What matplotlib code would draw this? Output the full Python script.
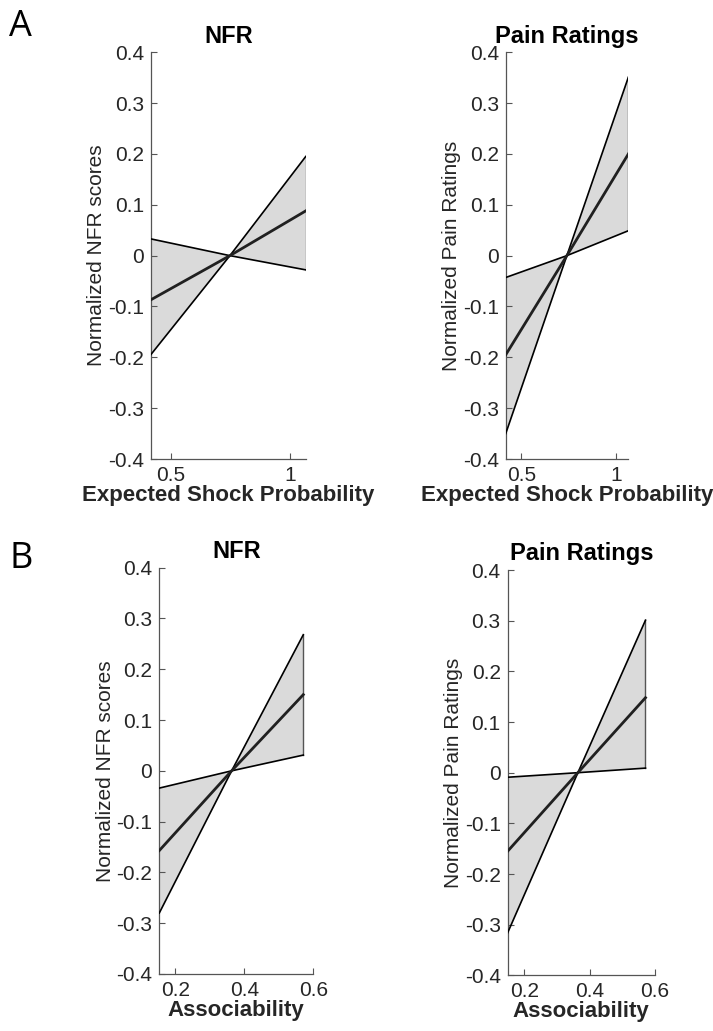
import matplotlib
matplotlib.use("Agg")
import matplotlib.pyplot as plt
import numpy as np

plt.rcParams['font.family'] = ['Liberation Sans', 'DejaVu Sans']

# x positions: left end, crossing point, right end
x_prob = [0.417, 0.749, 1.067]
x_prob_pain = [0.417, 0.741, 1.067]
x_assoc = [0.153, 0.363, 0.571]
x_assoc_pain = [0.149, 0.364, 0.571]

# A: expected shock probability
nfr_prob_steep = [-0.195, 0.0, 0.195]
nfr_prob_mean = [-0.087, 0.0, 0.088]
nfr_prob_flat = [0.033, 0.0, -0.028]
pain_prob_steep = [-0.350, 0.0, 0.351]
pain_prob_mean = [-0.195, 0.0, 0.200]
pain_prob_flat = [-0.043, 0.0, 0.049]

# B: associability
nfr_assoc_steep = [-0.280, 0.0, 0.268]
nfr_assoc_mean = [-0.157, 0.0, 0.150]
nfr_assoc_flat = [-0.034, 0.0, 0.031]
pain_assoc_steep = [-0.316, 0.0, 0.301]
pain_assoc_mean = [-0.155, 0.0, 0.148]
pain_assoc_flat = [-0.009, 0.0, 0.009]

y_ticks = [-0.4, -0.3, -0.2, -0.1, 0, 0.1, 0.2, 0.3, 0.4]
y_ticklabels = ['-0.4', '-0.3', '-0.2', '-0.1', '0', '0.1', '0.2', '0.3', '0.4']
prob_ticks = [0.5, 1.0]
prob_ticklabels = ['0.5', '1']
assoc_ticks = [0.2, 0.4, 0.6]
assoc_ticklabels = ['0.2', '0.4', '0.6']


def band_plot(ax, x, steep, mean, flat, title, ylabel, xlabel, xlim, xticks, xticklabels):
    # shaded band between the two bounding lines
    poly_x = list(x) + list(x[::-1])
    poly_y = list(steep) + list(flat[::-1])
    ax.fill(poly_x, poly_y, facecolor='#dadada', edgecolor='none', zorder=1)
    ax.plot([x[-1], x[-1]], [flat[-1], steep[-1]], color='#555555', lw=1.0, zorder=2)
    ax.plot(x, steep, color='black', lw=1.2, zorder=3)
    ax.plot(x, flat, color='black', lw=1.2, zorder=3)
    ax.plot(x, mean, color='#202020', lw=2.0, zorder=4)

    ax.set_xlim(xlim)
    ax.set_ylim(-0.4, 0.4)
    ax.set_yticks(y_ticks)
    ax.set_yticklabels(y_ticklabels)
    ax.set_xticks(xticks)
    ax.set_xticklabels(xticklabels)
    for s in ['top', 'right']:
        ax.spines[s].set_visible(False)
    for s in ['left', 'bottom']:
        ax.spines[s].set_color('#555555')
        ax.spines[s].set_linewidth(0.9)
    ax.tick_params(direction='in', length=4, width=0.8, color='#555555',
                   labelsize=15, labelcolor='#262626', pad=5)
    ax.set_title(title, fontsize=17, fontweight='bold', pad=7)
    ax.set_ylabel(ylabel, fontsize=15, color='#262626', labelpad=1)
    ax.set_xlabel(xlabel, fontsize=16, fontweight='bold', color='#262626', labelpad=0)


fig = plt.figure(figsize=(7.13, 10.31), dpi=100)

ax1 = fig.add_axes([0.2114, 0.5548, 0.2174, 0.3945])
band_plot(ax1, x_prob, nfr_prob_steep, nfr_prob_mean, nfr_prob_flat,
          'NFR', 'Normalized NFR scores', 'Expected Shock Probability',
          (0.417, 1.067), prob_ticks, prob_ticklabels)

ax2 = fig.add_axes([0.7093, 0.5548, 0.1720, 0.3945])
band_plot(ax2, x_prob_pain, pain_prob_steep, pain_prob_mean, pain_prob_flat,
          'Pain Ratings', 'Normalized Pain Ratings', 'Expected Shock Probability',
          (0.417, 1.067), prob_ticks, prob_ticklabels)

ax3 = fig.add_axes([0.2234, 0.0553, 0.2160, 0.3941])
band_plot(ax3, x_assoc, nfr_assoc_steep, nfr_assoc_mean, nfr_assoc_flat,
          'NFR', 'Normalized NFR scores', 'Associability',
          (0.153, 0.6), assoc_ticks, assoc_ticklabels)

ax4 = fig.add_axes([0.7120, 0.0540, 0.2066, 0.3931])
band_plot(ax4, x_assoc_pain, pain_assoc_steep, pain_assoc_mean, pain_assoc_flat,
          'Pain Ratings', 'Normalized Pain Ratings', 'Associability',
          (0.149, 0.6), assoc_ticks, assoc_ticklabels)

fig.text(0.013, 0.965, 'A', fontsize=26, family=['Open Sans', 'DejaVu Sans'], va='baseline')
fig.text(0.013, 0.449, 'B', fontsize=26, family=['Open Sans', 'DejaVu Sans'], va='baseline')

fig.savefig('out.png', dpi=100)
